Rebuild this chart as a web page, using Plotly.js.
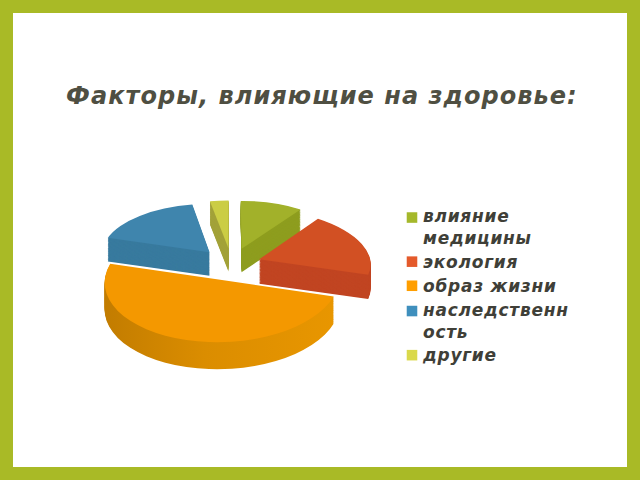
<!DOCTYPE html>
<html><head><meta charset="utf-8">
<script src="https://cdn.plot.ly/plotly-3.0.1.min.js"></script>
<style>html,body{margin:0;padding:0;background:#fff}#c{width:640px;height:480px}
.legendtext{letter-spacing:.75px}.gtitle{letter-spacing:1.05px}</style>
</head><body><div id="c"></div>
<script>
const categories=['влияние<br>медицины','экология','образ жизни','наследственн<br>ость','другие'];
const values=[10,19.5,50,17.5,3];
const pulls=[0.3,0.265,0.3,0.3,0.3];
const topColors=['#A2B12A','#D25023','#F49800','#3F85AD','#CBCD44'];
const wallColors=['#8E9D1F','#C14522','#DD8E00','#387A9E','#A3A23A'];
const legendColors=['#A5B82B','#E45A2B','#FF9E00','#3F8FBD','#DAD94B'];
// view of the 3D pie
const layers=30, depth=25, tilt=0.49, persp=1300, R=111;
const viewX=231.5, viewY=264, pieY=240, outer=R*1.3;
const fontFam='"DejaVu Sans",sans-serif';
const data=[];
for(let i=layers;i>=0;i--){
  data.push({type:'pie',labels:categories,values:values,sort:false,direction:'clockwise',rotation:0,
    pull:pulls,textinfo:'none',hoverinfo:'skip',showlegend:i===0,
    marker:{colors:i===0?topColors:wallColors,line:{width:0}},
    domain:{x:[(viewX-outer)/640,(viewX+outer)/640],y:[(pieY-outer)/480,(pieY+outer)/480]}});
}
const layout={width:640,height:480,margin:{l:0,r:0,t:0,b:0,autoexpand:false},paper_bgcolor:'#A9BA26',
  title:{text:'Факторы, влияющие на здоровье:',x:0.503,xanchor:'center',y:0.8,yanchor:'middle',
    font:{family:fontFam,size:24,color:'#4F4F42',weight:'bold',style:'italic'}},
  shapes:[{type:'rect',xref:'paper',yref:'paper',x0:13/640,x1:627/640,y0:1-467/480,y1:1-13/480,fillcolor:'#fff',line:{width:0},layer:'below'}],
  legend:{x:383/640,y:1-199/480,xanchor:'left',yanchor:'top',bgcolor:'rgba(0,0,0,0)',traceorder:'normal',
    font:{family:fontFam,size:17,color:'#3F3F38',weight:'bold',style:'italic'}}
};
// perspective projection of a point in the pie plane (X right, Y away from viewer)
const scaleAt=Y=>1/(1+Y/persp);
const proj=(X,Y)=>[viewX+X*scaleAt(Y), viewY-Y*tilt*scaleAt(Y)];
const total=values.reduce((a,b)=>a+b,0);
let acc=0;
const views=values.map((v,j)=>{
  const t1=acc/total*2*Math.PI, span=v/total*2*Math.PI; acc+=v;
  const tm=t1+span/2;
  const AX=pulls[j]*R*Math.sin(tm), AY=pulls[j]*R*Math.cos(tm);
  const ta=t1, tb=span>2.5?tm:t1+span;
  const a=[R*Math.sin(ta),-R*Math.cos(ta)], b=[R*Math.sin(tb),-R*Math.cos(tb)];
  const P0=proj(AX,AY);
  const Pa=proj(AX+a[0],AY-a[1]), Pb=proj(AX+b[0],AY-b[1]);
  const da=[Pa[0]-P0[0],Pa[1]-P0[1]], db=[Pb[0]-P0[0],Pb[1]-P0[1]];
  const det=a[0]*b[1]-b[0]*a[1];
  const m11=(da[0]*b[1]-db[0]*a[1])/det, m12=(-da[0]*b[0]+db[0]*a[0])/det;
  const m21=(da[1]*b[1]-db[1]*a[1])/det, m22=(-da[1]*b[0]+db[1]*a[0])/det;
  const sx=viewX+AX, sy=pieY-AY;
  const cY=AY+0.6*R*Math.cos(tm);
  return {m11,m12,m21,m22,sx,sy,P0,wall:depth*scaleAt(cY)};
});
Plotly.newPlot('c',data,layout,{staticPlot:true,displayModeBar:false}).then(gd=>{
  const svg=gd.querySelector('.main-svg');
  const ns='http://www.w3.org/2000/svg';
  const defs=document.createElementNS(ns,'defs');
  const g=document.createElementNS(ns,'linearGradient');g.id='orangeWall';
  [['0','#C27C00'],['0.45','#DB8D00'],['1','#E89600']].forEach(([o,c])=>{
    const s=document.createElementNS(ns,'stop');s.setAttribute('offset',o);s.setAttribute('stop-color',c);g.appendChild(s);});
  defs.appendChild(g);svg.appendChild(defs);
  gd.querySelectorAll('.pielayer .trace').forEach((t,idx)=>{
    const i=layers-idx;
    t.querySelectorAll('.slice path').forEach((p,j)=>{
      const v=views[j];
      const e=v.P0[0]-v.m11*v.sx-v.m12*v.sy;
      const f=v.P0[1]+i/layers*v.wall-v.m21*v.sx-v.m22*v.sy;
      p.setAttribute('transform',`matrix(${v.m11},${v.m21},${v.m12},${v.m22},${e},${f})`);
      if(i>0&&j===2)p.style.fill='url(#orangeWall)';
    });
  });
  // tighten legend rows and align swatches with the first text line
  gd.querySelectorAll('.legend .traces').forEach((t,idx)=>{
    const m=/translate\(([^,]+),\s*([^)]+)\)/.exec(t.getAttribute('transform'));
    if(m)t.setAttribute('transform',`translate(${m[1]},${parseFloat(m[2])*0.96})`);
    const text=t.querySelector('.legendtext');
    const two=text&&text.querySelectorAll('tspan.line').length>1;
    const p=t.querySelector('.legendpoints');
    if(p){
      const q=p.querySelector('path');
      if(q){q.style.fill=legendColors[idx];
        const r=q.getAttribute('transform')||'';
        q.setAttribute('transform',r+' scale(0.88)');}
      const ty=text?parseFloat(text.getAttribute('y'))||0:0;
      p.setAttribute('transform',`translate(9,${two?ty-4.5:0.5})`);
    }
  });
});
</script></body></html>
